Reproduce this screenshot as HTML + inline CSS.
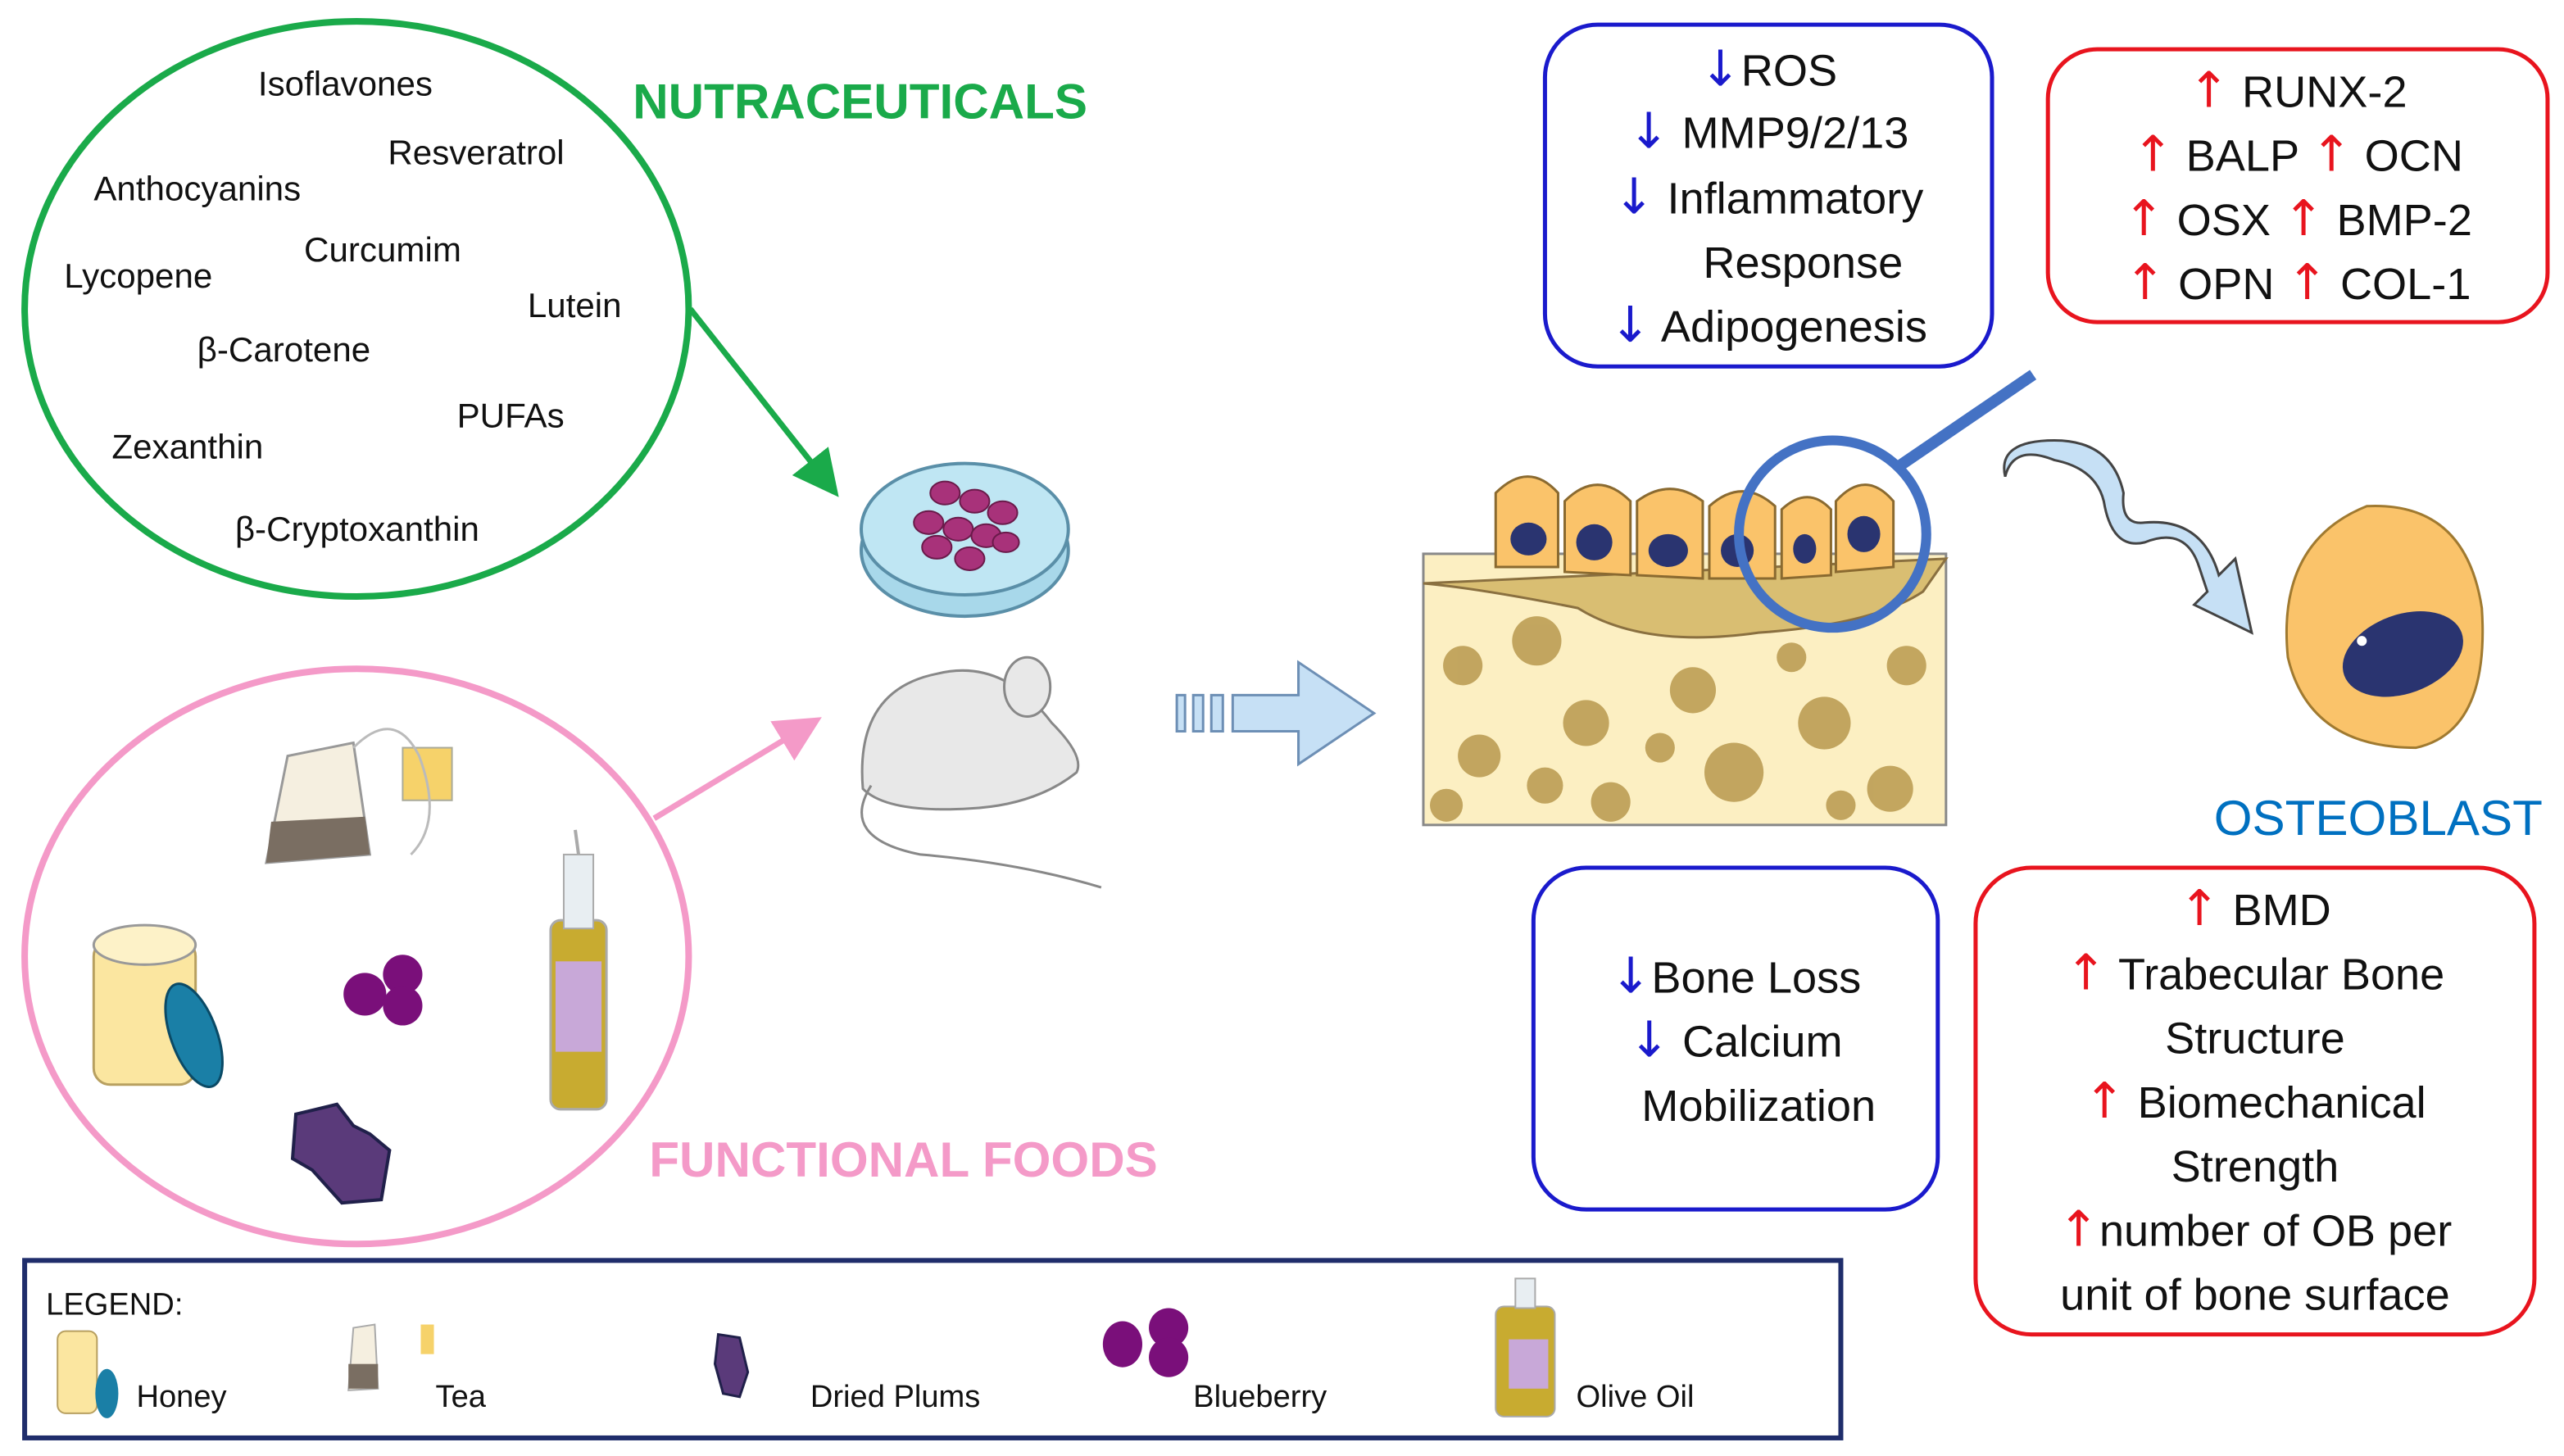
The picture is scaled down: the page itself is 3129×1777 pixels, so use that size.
<!DOCTYPE html>
<html><head><meta charset="utf-8"><style>
html,body{margin:0;padding:0;background:#fff;}
svg{display:block;}
text{font-family:"Liberation Sans",sans-serif;}
.t{font-size:21px;fill:#111;}
.b{font-size:27px;fill:#111;}
.ad{font-family:"DejaVu Sans",sans-serif;font-size:30px;fill:#1a1acc;}
.au{font-family:"DejaVu Sans",sans-serif;font-size:30px;fill:#e8141e;}
</style></head><body>
<svg width="3129" height="1777" viewBox="0 0 1560 886" preserveAspectRatio="none" xmlns="http://www.w3.org/2000/svg">
<defs>
<marker id="ag" markerWidth="8" markerHeight="8" refX="6" refY="4" orient="auto" markerUnits="strokeWidth"><path d="M0,0 L8,4 L0,8 z" fill="#1aaa4a"/></marker>
<marker id="ap" markerWidth="8" markerHeight="8" refX="6" refY="4" orient="auto" markerUnits="strokeWidth"><path d="M0,0 L8,4 L0,8 z" fill="#f49ac8"/></marker>
</defs>
<ellipse cx="217" cy="188" rx="202" ry="175" fill="none" stroke="#1aaa4a" stroke-width="4"/>
<text x="385" y="72" font-size="30" font-weight="bold" fill="#1aaa4a">NUTRACEUTICALS</text>
<text class="t" x="157" y="58">Isoflavones</text>
<text class="t" x="236" y="100">Resveratrol</text>
<text class="t" x="57" y="122">Anthocyanins</text>
<text class="t" x="185" y="159">Curcumim</text>
<text class="t" x="39" y="175">Lycopene</text>
<text class="t" x="321" y="193">Lutein</text>
<text class="t" x="120" y="220">β-Carotene</text>
<text class="t" x="278" y="260">PUFAs</text>
<text class="t" x="68" y="279">Zexanthin</text>
<text class="t" x="143" y="329">β-Cryptoxanthin</text>
<line x1="420" y1="188" x2="506" y2="297" stroke="#1aaa4a" stroke-width="3.5" marker-end="url(#ag)"/>
<ellipse cx="587" cy="335" rx="63" ry="40" fill="#a8d8ea" stroke="#5a8fa8" stroke-width="2"/>
<ellipse cx="587" cy="322" rx="63" ry="40" fill="#bfe6f3" stroke="#5a8fa8" stroke-width="2"/>
<g fill="#a8327a" stroke="#6a1a4a" stroke-width="1">
<ellipse cx="575" cy="300" rx="9" ry="7"/><ellipse cx="593" cy="305" rx="9" ry="7"/><ellipse cx="610" cy="312" rx="9" ry="7"/>
<ellipse cx="565" cy="318" rx="9" ry="7"/><ellipse cx="583" cy="322" rx="9" ry="7"/><ellipse cx="600" cy="326" rx="9" ry="7"/>
<ellipse cx="570" cy="333" rx="9" ry="7"/><ellipse cx="590" cy="340" rx="9" ry="7"/><ellipse cx="612" cy="330" rx="8" ry="6"/>
</g>
<g fill="#e8e8e8" stroke="#888" stroke-width="1.5">
<path d="M525,480 Q520,420 570,410 Q610,400 640,440 Q660,460 655,470 Q630,490 590,492 Q540,495 525,480z"/>
<ellipse cx="625" cy="418" rx="14" ry="18"/>
<path d="M530,478 Q510,510 560,520 Q620,525 670,540" fill="none"/>
</g>
<g fill="#c6e0f5" stroke="#6d8fb5" stroke-width="1.5">
<rect x="716" y="423" width="5" height="22"/><rect x="726" y="423" width="6" height="22"/><rect x="737" y="423" width="7" height="22"/>
<path d="M750,423 L790,423 L790,403 L836,434 L790,465 L790,445 L750,445z"/>
</g>
<rect x="866" y="337" width="318" height="165" fill="#fcefc2" stroke="#888" stroke-width="1.5"/>
<g fill="#b8994e" opacity="0.85">
<circle cx="890" cy="405" r="12"/><circle cx="935" cy="390" r="15"/><circle cx="1030" cy="420" r="14"/><circle cx="1110" cy="440" r="16"/>
<circle cx="900" cy="460" r="13"/><circle cx="965" cy="440" r="14"/><circle cx="1055" cy="470" r="18"/><circle cx="1150" cy="480" r="14"/>
<circle cx="880" cy="490" r="10"/><circle cx="980" cy="488" r="12"/><circle cx="1010" cy="455" r="9"/><circle cx="1160" cy="405" r="12"/>
<circle cx="1090" cy="400" r="9"/><circle cx="940" cy="478" r="11"/><circle cx="1120" cy="490" r="9"/>
</g>
<path d="M866,355 L1184,340 L1170,360 Q1140,380 1070,385 Q1000,395 960,370 Q900,358 866,355z" fill="#d9be72" stroke="#8a7040" stroke-width="1.5"/>
<g fill="#fac36a" stroke="#8a6a30" stroke-width="1.5">
<path d="M910,345 L910,300 Q930,280 948,300 L948,345z"/><path d="M952,348 L952,305 Q972,285 992,305 L992,350z"/>
<path d="M996,350 L996,305 Q1016,290 1036,305 L1036,352z"/><path d="M1040,352 L1040,308 Q1060,290 1080,308 L1080,352z"/>
<path d="M1084,352 L1084,310 Q1100,295 1114,310 L1114,350z"/><path d="M1117,348 L1117,305 Q1135,285 1152,305 L1152,345z"/>
</g>
<g fill="#2a3470"><ellipse cx="930" cy="328" rx="11" ry="10"/><ellipse cx="970" cy="330" rx="11" ry="11"/><ellipse cx="1015" cy="335" rx="12" ry="10"/><ellipse cx="1057" cy="335" rx="10" ry="10"/><ellipse cx="1098" cy="334" rx="7" ry="9"/><ellipse cx="1134" cy="325" rx="10" ry="11"/></g>
<circle cx="1115" cy="325" r="57" fill="none" stroke="#4472c4" stroke-width="6"/>
<line x1="1155" y1="284" x2="1237" y2="228" stroke="#4472c4" stroke-width="7"/>
<path d="M1220,290 Q1225,270 1250,280 Q1275,285 1280,305 Q1285,335 1305,330 Q1330,320 1338,345 L1343,360 L1335,368 L1370,385 L1360,340 L1350,350 Q1340,315 1305,318 Q1290,320 1292,300 Q1285,268 1250,268 Q1215,268 1220,290z" fill="#c6e0f5" stroke="#444" stroke-width="1.5"/>
<path d="M1440,308 Q1500,305 1510,370 Q1515,445 1470,455 Q1405,455 1392,400 Q1385,330 1440,308z" fill="#fac36a" stroke="#a07a30" stroke-width="1.5"/>
<ellipse cx="1462" cy="398" rx="38" ry="24" transform="rotate(-20 1462 398)" fill="#2a3470"/>
<circle cx="1437" cy="390" r="3" fill="#fff"/>
<text x="1347" y="508" font-size="30" fill="#0070c0">OSTEOBLAST</text>
<rect x="940" y="15" width="272" height="208" rx="32" fill="none" stroke="#1a1acc" stroke-width="2.5"/>
<text class="b" text-anchor="middle"><tspan x="1076" y="52"><tspan class="ad">↓</tspan>ROS</tspan><tspan x="1076" y="90"><tspan class="ad">↓</tspan> MMP9/2/13</tspan><tspan x="1076" y="130"><tspan class="ad">↓</tspan> Inflammatory</tspan><tspan x="1097" y="169">Response</tspan><tspan x="1076" y="208"><tspan class="ad">↓</tspan> Adipogenesis</tspan></text>
<rect x="1246" y="30" width="304" height="166" rx="30" fill="none" stroke="#e8141e" stroke-width="2.5"/>
<text class="b" text-anchor="middle"><tspan x="1398" y="65"><tspan class="au">↑</tspan> RUNX-2</tspan><tspan x="1398" y="104"><tspan class="au">↑</tspan> BALP <tspan class="au">↑</tspan> OCN</tspan><tspan x="1398" y="143"><tspan class="au">↑</tspan> OSX <tspan class="au">↑</tspan> BMP-2</tspan><tspan x="1398" y="182"><tspan class="au">↑</tspan> OPN <tspan class="au">↑</tspan> COL-1</tspan></text>
<rect x="933" y="528" width="246" height="208" rx="32" fill="none" stroke="#1a1acc" stroke-width="2.5"/>
<text class="b" text-anchor="middle"><tspan x="1056" y="604"><tspan class="ad">↓</tspan>Bone Loss</tspan><tspan x="1056" y="643"><tspan class="ad">↓</tspan> Calcium</tspan><tspan x="1070" y="682">Mobilization</tspan></text>
<rect x="1202" y="528" width="340" height="284" rx="34" fill="none" stroke="#e8141e" stroke-width="2.5"/>
<text class="b" text-anchor="middle"><tspan x="1372" y="563"><tspan class="au">↑</tspan> BMD</tspan><tspan x="1372" y="602"><tspan class="au">↑</tspan> Trabecular Bone</tspan><tspan x="1372" y="641">Structure</tspan><tspan x="1372" y="680"><tspan class="au">↑</tspan> Biomechanical</tspan><tspan x="1372" y="719">Strength</tspan><tspan x="1372" y="758"><tspan class="au">↑</tspan>number of OB per</tspan><tspan x="1372" y="797">unit of bone surface</tspan></text>
<ellipse cx="217" cy="582" rx="202" ry="175" fill="none" stroke="#f49ac8" stroke-width="4"/>
<line x1="398" y1="498" x2="494" y2="440" stroke="#f49ac8" stroke-width="3.5" marker-end="url(#ap)"/>
<text x="395" y="716" font-size="30" font-weight="bold" fill="#f49ac8">FUNCTIONAL FOODS</text>
<path d="M175,460 L215,452 L225,520 L162,525z" fill="#f5efe0" stroke="#999" stroke-width="1.5"/>
<path d="M165,500 L222,497 L225,520 L162,525z" fill="#7a6e62"/>
<rect x="245" y="455" width="30" height="32" fill="#f6d26a" stroke="#aa9" stroke-width="1"/>
<path d="M215,455 Q240,430 255,460 Q270,500 250,520" fill="none" stroke="#bbb" stroke-width="1.5"/>
<rect x="57" y="572" width="62" height="88" rx="10" fill="#fbe6a0" stroke="#b8a060" stroke-width="1.5"/>
<ellipse cx="88" cy="575" rx="31" ry="12" fill="#fdf2c8" stroke="#999" stroke-width="1.5"/>
<ellipse cx="118" cy="630" rx="14" ry="33" transform="rotate(-20 118 630)" fill="#1a7fa6" stroke="#0a4a66" stroke-width="1.5"/>
<g fill="#7a0f7a"><circle cx="222" cy="605" r="13"/><circle cx="245" cy="593" r="12"/><circle cx="245" cy="612" r="12"/></g>
<path d="M180,678 L205,672 L215,685 L225,690 L237,700 L232,730 L208,732 L190,712 L178,705z" fill="#5a3a7a" stroke="#20204a" stroke-width="2"/>
<rect x="335" y="560" width="34" height="115" rx="6" fill="#c8ab30" stroke="#aaa" stroke-width="1.5"/>
<rect x="343" y="520" width="18" height="45" fill="#e8eef2" stroke="#aaa" stroke-width="1"/>
<rect x="338" y="585" width="28" height="55" fill="#c8a8d8"/>
<line x1="352" y1="520" x2="350" y2="505" stroke="#aaa" stroke-width="2"/>
<rect x="15" y="767" width="1105" height="108" fill="none" stroke="#1f2d6b" stroke-width="3"/>
<text x="28" y="800" font-size="19" fill="#111">LEGEND:</text>
<rect x="35" y="810" width="24" height="50" rx="5" fill="#fbe6a0" stroke="#b8a060"/><ellipse cx="65" cy="848" rx="7" ry="15" fill="#1a7fa6"/>
<text x="83" y="856" font-size="19" fill="#111">Honey</text>
<path d="M215,808 L228,806 L230,845 L212,846z" fill="#f5efe0" stroke="#aaa"/><rect x="212" y="830" width="18" height="15" fill="#7a6e62"/><rect x="256" y="806" width="8" height="18" fill="#f6d26a"/>
<text x="265" y="856" font-size="19" fill="#111">Tea</text>
<path d="M437,812 L450,814 L455,835 L450,850 L440,848 L435,830z" fill="#5a3a7a" stroke="#20204a" stroke-width="1.5"/>
<text x="493" y="856" font-size="19" fill="#111">Dried Plums</text>
<g fill="#7a0f7a"><ellipse cx="683" cy="818" rx="12" ry="14"/><ellipse cx="711" cy="808" rx="12" ry="12"/><ellipse cx="711" cy="826" rx="12" ry="12"/></g>
<text x="726" y="856" font-size="19" fill="#111">Blueberry</text>
<rect x="910" y="795" width="36" height="67" rx="5" fill="#c8ab30" stroke="#aaa"/><rect x="918" y="815" width="24" height="30" fill="#c8a8d8"/><rect x="922" y="778" width="12" height="18" fill="#e8eef2" stroke="#aaa"/>
<text x="959" y="856" font-size="19" fill="#111">Olive Oil</text>
</svg>
</body></html>
